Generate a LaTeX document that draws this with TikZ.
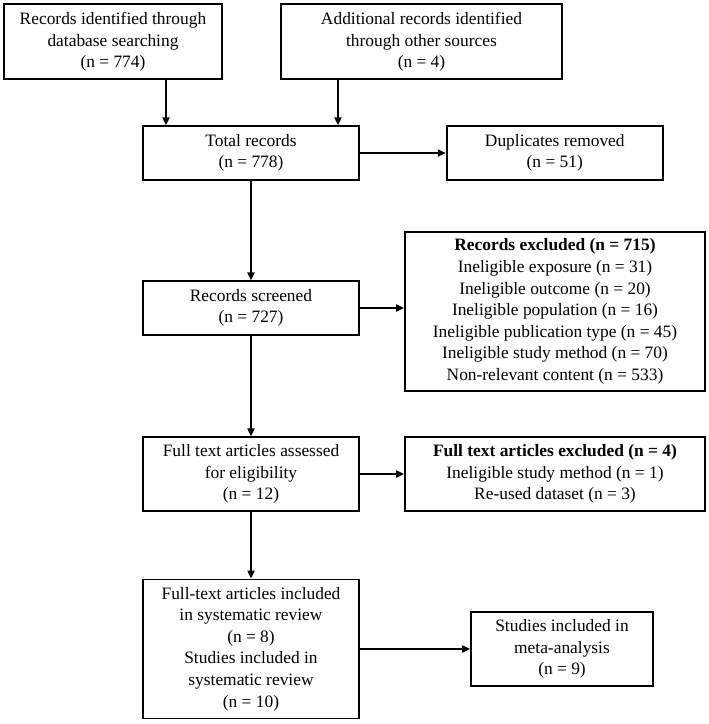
\documentclass[tikz,border=0pt]{standalone}
\usepackage{fontspec}
\setmainfont{Liberation Serif}
\usetikzlibrary{arrows.meta}
\begin{document}
\begin{tikzpicture}[x=1pt,y=1pt,
  box/.style={draw=black, line width=1.8pt, inner sep=0pt, align=center,
    font=\fontsize{17.4}{21.6}\selectfont},
  arr/.style={line width=1.9pt, -{Triangle[length=8pt,width=7pt]}}]
\useasboundingbox (0,0) rectangle (709,-724);
\node[box, minimum width=217.4pt, minimum height=75pt] (b1) at (113,-41.8)
  {Records identified through\\database searching\\(n = 774)};
\node[box, minimum width=281pt, minimum height=75pt] (b2) at (421.5,-41.8)
  {Additional records identified\\through other sources\\(n = 4)};
\node[box, minimum width=215.7pt, minimum height=53.5pt] (total) at (251,-153)
  {Total records\\(n = 778)};
\node[box, minimum width=216.3pt, minimum height=53.5pt] (dup) at (554.8,-153)
  {Duplicates removed\\(n = 51)};
\node[box, minimum width=216pt, minimum height=53.3pt] (scr) at (251,-308)
  {Records screened\\(n = 727)};
\node[box, minimum width=300pt, minimum height=159pt] (excl) at (555,-311.5)
  {\textbf{Records excluded (n = 715)}\\Ineligible exposure (n = 31)\\Ineligible outcome (n = 20)\\Ineligible population (n = 16)\\Ineligible publication type (n = 45)\\Ineligible study method (n = 70)\\Non-relevant content (n = 533)};
\node[box, minimum width=216pt, minimum height=73.5pt] (ft) at (251,-474)
  {Full text articles assessed\\for eligibility\\(n = 12)};
\node[box, minimum width=300pt, minimum height=73.5pt] (ftex) at (555,-474)
  {\textbf{Full text articles excluded (n = 4)}\\Ineligible study method (n = 1)\\Re-used dataset (n = 3)};
\node[box, minimum width=216pt, minimum height=139pt] (incl) at (251,-649)
  {Full-text articles included\\in systematic review\\(n = 8)\\Studies included in\\systematic review\\(n = 10)};
\node[box, minimum width=182pt, minimum height=74.3pt] (meta) at (562,-649)
  {Studies included in\\meta-analysis\\(n = 9)};
\coordinate (a1) at (166,0);
\coordinate (a2) at (338,0);
\draw[arr] (b1.south -| a1) -- (total.north -| a1);
\draw[arr] (b2.south -| a2) -- (total.north -| a2);
\draw[arr] (total.east) -- (dup.west);
\draw[arr] (total.south) -- (scr.north);
\draw[arr] (scr.east) -- (scr.east -| excl.west);
\draw[arr] (scr.south) -- (ft.north);
\draw[arr] (ft.east) -- (ftex.west);
\draw[arr] (ft.south) -- (incl.north);
\draw[arr] (incl.east) -- (meta.west);
\end{tikzpicture}
\end{document}
